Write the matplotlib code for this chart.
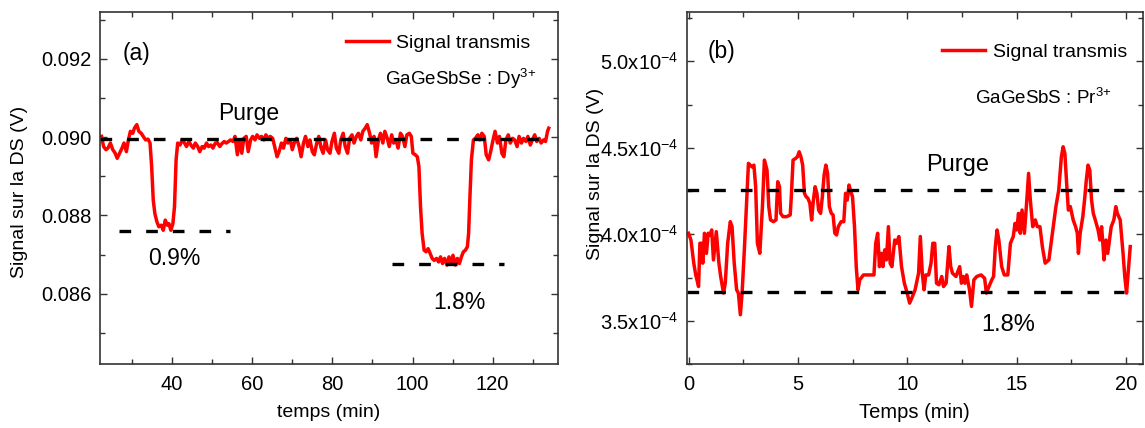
import numpy as np
import matplotlib
matplotlib.use("Agg")
import matplotlib.pyplot as plt

plt.rcParams['font.family'] = ['Liberation Sans', 'DejaVu Sans']
plt.rcParams['mathtext.fontset'] = 'custom'
plt.rcParams['mathtext.rm'] = 'Liberation Sans'
plt.rcParams['mathtext.it'] = 'Liberation Sans:italic'
plt.rcParams['mathtext.default'] = 'regular'

# panel (a): GaGeSbSe:Dy3+, time in min, signal in V
time_a = [22.4, 22.9, 23.5, 24.0, 24.6, 25.2, 25.8, 26.3, 26.9, 27.5, 28.0, 28.6, 29.1, 29.6,
          30.2, 30.6, 31.2, 31.7, 32.3, 32.8, 33.4, 34.0, 34.5, 34.9, 35.3, 35.7, 36.2, 36.7,
          37.3, 37.8, 38.3, 38.8, 39.2, 39.7, 40.2, 40.6, 41.0, 41.4, 42.0, 42.5, 43.1, 43.6,
          44.2, 44.7, 45.3, 45.8, 46.4, 46.9, 47.5, 48.0, 48.6, 49.1, 49.7, 50.2, 50.8, 51.3,
          51.9, 52.4, 53.0, 53.5, 54.1, 54.6, 55.2, 55.7, 56.3, 56.8, 57.4, 57.9, 58.5, 59.0,
          59.6, 60.1, 60.7, 61.2, 61.8, 62.3, 62.9, 63.4, 64.0, 64.5, 65.1, 65.6, 66.2, 66.7,
          67.3, 67.8, 68.4, 68.9, 69.5, 70.0, 70.6, 71.1, 71.7, 72.2, 72.8, 73.3, 73.9, 74.4,
          75.0, 75.5, 76.1, 76.6, 77.2, 77.7, 78.3, 78.8, 79.4, 79.9, 80.5, 81.0, 81.6, 82.1,
          82.7, 83.2, 83.8, 84.3, 84.9, 85.4, 86.0, 86.5, 87.1, 87.6, 88.2, 88.7, 89.3, 89.8,
          90.4, 90.9, 91.5, 92.0, 92.6, 93.1, 93.7, 94.2, 94.8, 95.3, 95.9, 96.4, 97.0, 97.5,
          98.1, 98.6, 99.2, 99.7, 100.1, 100.7, 101.2, 101.6, 102.0, 102.4, 102.9, 103.4, 103.9,
          104.4, 104.9, 105.4, 106.0, 106.5, 107.0, 107.5, 108.0, 108.6, 109.1, 109.6, 110.1,
          110.7, 111.2, 111.7, 112.2, 112.7, 113.2, 113.7, 114.0, 114.3, 114.7, 115.2, 115.7,
          116.3, 116.8, 117.3, 117.9, 118.4, 119.0, 119.5, 120.1, 120.6, 121.2, 121.7, 122.3,
          122.8, 123.3, 123.9, 124.4, 125.0, 125.5, 126.1, 126.6, 127.2, 127.7, 128.3, 128.8,
          129.4, 129.9, 130.5, 131.0, 131.6, 132.1, 132.7, 133.2, 133.7, 134.0]
signal_a = [0.09002, 0.08976, 0.08968, 0.08972, 0.08985, 0.08968, 0.08959, 0.08946, 0.08959,
            0.08972, 0.08985, 0.08963, 0.08993, 0.09015, 0.09010, 0.09023, 0.09032, 0.09015,
            0.09010, 0.09002, 0.08993, 0.08995, 0.08985, 0.08925, 0.08839, 0.08805, 0.08784,
            0.08771, 0.08775, 0.08762, 0.08788, 0.08775, 0.08779, 0.08762, 0.08779, 0.08822,
            0.08942, 0.08985, 0.08980, 0.08993, 0.08985, 0.08976, 0.08989, 0.08980, 0.08972,
            0.08985, 0.08976, 0.08963, 0.08976, 0.08972, 0.08985, 0.08976, 0.08980, 0.08972,
            0.08985, 0.08986, 0.08976, 0.08983, 0.08989, 0.08985, 0.08989, 0.08993, 0.08989,
            0.09002, 0.08955, 0.08993, 0.08959, 0.08997, 0.09002, 0.08963, 0.08993, 0.09002,
            0.08993, 0.09006, 0.08997, 0.09002, 0.08993, 0.09006, 0.08997, 0.09002, 0.08997,
            0.08976, 0.08950, 0.08963, 0.08985, 0.08972, 0.08997, 0.08985, 0.08993, 0.08968,
            0.08989, 0.08997, 0.08976, 0.08950, 0.08985, 0.09002, 0.08976, 0.08993, 0.08963,
            0.08955, 0.08985, 0.09002, 0.08972, 0.08959, 0.08993, 0.08968, 0.08959, 0.08989,
            0.09010, 0.08972, 0.08959, 0.08993, 0.09010, 0.08976, 0.08959, 0.08997, 0.09006,
            0.08985, 0.09002, 0.09010, 0.08993, 0.09015, 0.09023, 0.09032, 0.09010, 0.08985,
            0.09002, 0.08950, 0.08993, 0.09010, 0.08985, 0.09015, 0.08997, 0.08976, 0.09006,
            0.08985, 0.08993, 0.08972, 0.09010, 0.09002, 0.08976, 0.09006, 0.09010, 0.09002,
            0.08959, 0.08955, 0.08950, 0.08925, 0.08822, 0.08754, 0.08711, 0.08707, 0.08715,
            0.08703, 0.08690, 0.08685, 0.08690, 0.08681, 0.08694, 0.08677, 0.08690, 0.08673,
            0.08694, 0.08677, 0.08698, 0.08673, 0.08690, 0.08677, 0.08694, 0.08707, 0.08711,
            0.08720, 0.08754, 0.08839, 0.08942, 0.08993, 0.08997, 0.09006, 0.08993, 0.09010,
            0.09002, 0.08955, 0.08942, 0.08963, 0.08993, 0.09015, 0.08985, 0.09002, 0.08959,
            0.08950, 0.08993, 0.09006, 0.08985, 0.08997, 0.08993, 0.08976, 0.09002, 0.08985,
            0.08997, 0.08989, 0.09002, 0.08980, 0.08993, 0.09006, 0.08989, 0.08997, 0.08985,
            0.08993, 0.08989, 0.09015, 0.09023]

# panel (b): GaGeSbS:Pr3+, signal in units of 1e-4 V
time_b = [0.0, 0.11, 0.24, 0.33, 0.46, 0.52, 0.6, 0.65, 0.73, 0.82, 0.9, 0.98, 1.06, 1.14,
          1.27, 1.39, 1.47, 1.6, 1.68, 1.79, 1.91, 1.99, 2.09, 2.2, 2.28, 2.37, 2.45, 2.56,
          2.66, 2.74, 2.82, 2.9, 2.99, 3.07, 3.15, 3.26, 3.38, 3.47, 3.59, 3.67, 3.75, 3.88,
          4.0, 4.08, 4.16, 4.21, 4.32, 4.49, 4.65, 4.7, 4.78, 4.89, 4.98, 5.06, 5.14, 5.22,
          5.3, 5.38, 5.46, 5.55, 5.63, 5.71, 5.79, 5.87, 5.95, 6.04, 6.12, 6.2, 6.28, 6.36,
          6.44, 6.53, 6.61, 6.69, 6.77, 6.85, 6.98, 7.1, 7.18, 7.26, 7.34, 7.42, 7.5, 7.59,
          7.67, 7.75, 7.83, 8.0, 8.24, 8.48, 8.56, 8.65, 8.73, 8.81, 8.89, 8.97, 9.05, 9.14,
          9.22, 9.3, 9.43, 9.51, 9.62, 9.74, 9.87, 10.0, 10.11, 10.24, 10.36, 10.52, 10.6,
          10.69, 10.77, 10.85, 10.98, 11.09, 11.17, 11.26, 11.34, 11.45, 11.58, 11.66, 11.78,
          11.91, 11.99, 12.07, 12.23, 12.4, 12.48, 12.56, 12.64, 12.72, 12.85, 12.94, 13.05,
          13.18, 13.38, 13.54, 13.62, 13.74, 13.87, 13.95, 14.03, 14.11, 14.19, 14.32, 14.44,
          14.6, 14.72, 14.85, 14.93, 15.01, 15.09, 15.17, 15.25, 15.36, 15.47, 15.55, 15.63,
          15.74, 15.86, 15.95, 16.07, 16.18, 16.31, 16.48, 16.64, 16.8, 16.93, 17.05, 17.13,
          17.21, 17.3, 17.37, 17.46, 17.59, 17.7, 17.78, 17.83, 17.91, 18.03, 18.11, 18.19,
          18.27, 18.35, 18.43, 18.51, 18.6, 18.73, 18.81, 18.89, 19.0, 19.09, 19.17, 19.25,
          19.33, 19.45, 19.54, 19.61, 19.74, 19.87, 19.95, 20.03, 20.15, 20.2]
signal_b = [4.006, 3.967, 3.833, 3.765, 3.698, 3.948, 3.948, 3.833, 4.006, 3.89, 4.006, 3.996,
            4.025, 3.852, 4.015, 3.833, 3.756, 3.66, 3.717, 3.948, 4.073, 4.044, 3.833, 3.679,
            3.66, 3.535, 3.66, 3.929, 4.198, 4.41, 4.4, 4.39, 4.4, 4.275, 3.948, 3.89, 4.16,
            4.429, 4.371, 4.16, 4.083, 4.073, 4.083, 4.304, 4.275, 4.121, 4.102, 4.102, 4.112,
            4.217, 4.429, 4.438, 4.448, 4.477, 4.448, 4.4, 4.237, 4.217, 4.208, 4.179, 4.083,
            4.198, 4.275, 4.237, 4.14, 4.121, 4.217, 4.342, 4.4, 4.352, 4.16, 4.121, 4.112,
            4.006, 3.996, 4.044, 4.073, 4.073, 4.237, 4.198, 4.285, 4.246, 4.217, 4.044, 3.813,
            3.679, 3.737, 3.765, 3.765, 3.765, 3.948, 4.006, 3.813, 3.89, 3.813, 3.91, 3.852,
            4.044, 3.833, 3.813, 3.967, 3.948, 3.987, 3.813, 3.717, 3.66, 3.602, 3.64, 3.679,
            3.775, 3.987, 3.775, 3.679, 3.765, 3.765, 3.833, 3.948, 3.948, 3.717, 3.708, 3.756,
            3.698, 3.717, 3.929, 3.813, 3.775, 3.756, 3.813, 3.717, 3.756, 3.717, 3.765, 3.679,
            3.583, 3.737, 3.756, 3.765, 3.746, 3.66, 3.698, 3.737, 3.756, 3.929, 4.025, 3.967,
            3.813, 3.765, 3.765, 3.948, 3.987, 4.063, 4.025, 4.121, 4.006, 4.14, 4.006, 4.198,
            4.352, 4.198, 4.044, 4.083, 4.044, 4.044, 3.929, 3.833, 3.852, 4.006, 4.16, 4.256,
            4.448, 4.506, 4.467, 4.275, 4.14, 4.16, 4.083, 4.044, 4.006, 3.89, 4.006, 4.102,
            4.198, 4.313, 4.4, 4.371, 4.198, 4.121, 4.083, 4.025, 3.967, 4.044, 3.852, 3.967,
            3.89, 3.967, 4.044, 4.083, 4.16, 4.121, 4.083, 3.89, 3.756, 3.66, 3.852, 3.929]

# reference levels (dashed)
purge_a = ([22.0, 132.5], 0.08995)
low09_a = ([26.75, 54.35], 0.08760)
low18_a = ([94.97, 122.8], 0.08677)
purge_b = ([-0.08, 19.9], 4.2555)
low18_b = ([-0.08, 19.9], 3.669)

red = '#ff0000'
dash = (0, (3.5, 4.5))

fig = plt.figure(figsize=(11.45, 4.28), dpi=100)
ax1 = fig.add_axes([0.0873, 0.1495, 0.4, 0.8224])
ax2 = fig.add_axes([0.5998, 0.1495, 0.3984, 0.8224])

for ax in (ax1, ax2):
    for s in ax.spines.values():
        s.set_linewidth(1.2)
        s.set_color('#333333')
    ax.tick_params(which='both', direction='in', top=True, right=True,
                   labelsize=14.5, width=1, color='#333333')
    ax.tick_params(axis='x', pad=8)
    ax.tick_params(axis='y', pad=6)
    ax.tick_params(which='major', length=5)
    ax.tick_params(which='minor', length=3.5)

# ---- panel (a)
ax1.plot(time_a, signal_a, color=red, lw=2.5, label='Signal transmis')
for xs, y in (purge_a, low09_a, low18_a):
    ax1.plot(xs, [y, y], color='black', lw=2.4, linestyle=dash)
ax1.set_xlim(22, 136.3)
ax1.set_ylim(0.0842, 0.0932)
ax1.set_xticks([40, 60, 80, 100, 120])
ax1.set_xticks(np.arange(30, 135, 10), minor=True)
ax1.set_yticks([0.086, 0.088, 0.090, 0.092])
ax1.set_yticks([0.085, 0.087, 0.089, 0.091, 0.093], minor=True)
ax1.set_yticklabels(['0.086', '0.088', '0.090', '0.092'])
ax1.set_xlabel('temps (min)', fontsize=14)
ax1.set_ylabel('Signal sur la DS (V)', fontsize=14)
ax1.yaxis.set_label_coords(-0.157, 0.49)
ax1.xaxis.set_label_coords(0.5, -0.115)
ax1.text(0.05, 0.864, '(a)', transform=ax1.transAxes, fontsize=16.5, va='baseline')
ax1.text(0.952, 0.7926, r'GaGeSbSe : Dy$^{3\!+}$', transform=ax1.transAxes,
         fontsize=13.5, ha='right', va='baseline')
ax1.text(59.1, 0.090444, 'Purge', fontsize=16.5, ha='center', va='baseline')
ax1.text(40.5, 0.086726, '0.9%', fontsize=16.5, ha='center', va='baseline')
ax1.text(111.75, 0.085615, '1.8%', fontsize=16.5, ha='center', va='baseline')
ax1.legend(loc='center left', bbox_to_anchor=(0.537, 0.911), frameon=False,
           borderpad=0, borderaxespad=0, handlelength=2.2, handletextpad=0.4,
           fontsize=14)

# ---- panel (b)
ax2.plot(time_b, signal_b, color=red, lw=2.5, label='Signal transmis')
for xs, y in (purge_b, low18_b):
    ax2.plot(xs, [y, y], color='black', lw=2.4, linestyle=dash)
ax2.set_xlim(-0.08, 20.78)
ax2.set_ylim(3.25, 5.285)
ax2.set_xticks([0, 5, 10, 15, 20])
ax2.set_xticks(np.arange(2.5, 20.6, 2.5), minor=True)
ax2.set_yticks([3.5, 4.0, 4.5, 5.0])
ax2.set_yticks([3.25, 3.75, 4.25, 4.75, 5.25], minor=True)
ax2.set_yticklabels([f'{v:.1f}x10$^{{-4}}$' for v in [3.5, 4.0, 4.5, 5.0]])
ax2.set_xlabel('Temps (min)', fontsize=14.5)
ax2.set_ylabel('Signal sur la DS (V)', fontsize=14)
ax2.yaxis.set_label_coords(-0.182, 0.54)
ax2.xaxis.set_label_coords(0.5, -0.112)
ax2.text(0.046, 0.868, '(b)', transform=ax2.transAxes, fontsize=16.5, va='baseline')
ax2.text(0.9325, 0.74, r'GaGeSbS : Pr$^{3\!+}$', transform=ax2.transAxes,
         fontsize=13.5, ha='right', va='baseline')
ax2.text(12.3, 4.365, 'Purge', fontsize=17, ha='center', va='baseline')
ax2.text(14.63, 3.438, '1.8%', fontsize=17, ha='center', va='baseline')
ax2.legend(loc='center left', bbox_to_anchor=(0.56, 0.887), frameon=False,
           borderpad=0, borderaxespad=0, handlelength=2.2, handletextpad=0.4,
           fontsize=14)

fig.savefig('out.png', dpi=100)
